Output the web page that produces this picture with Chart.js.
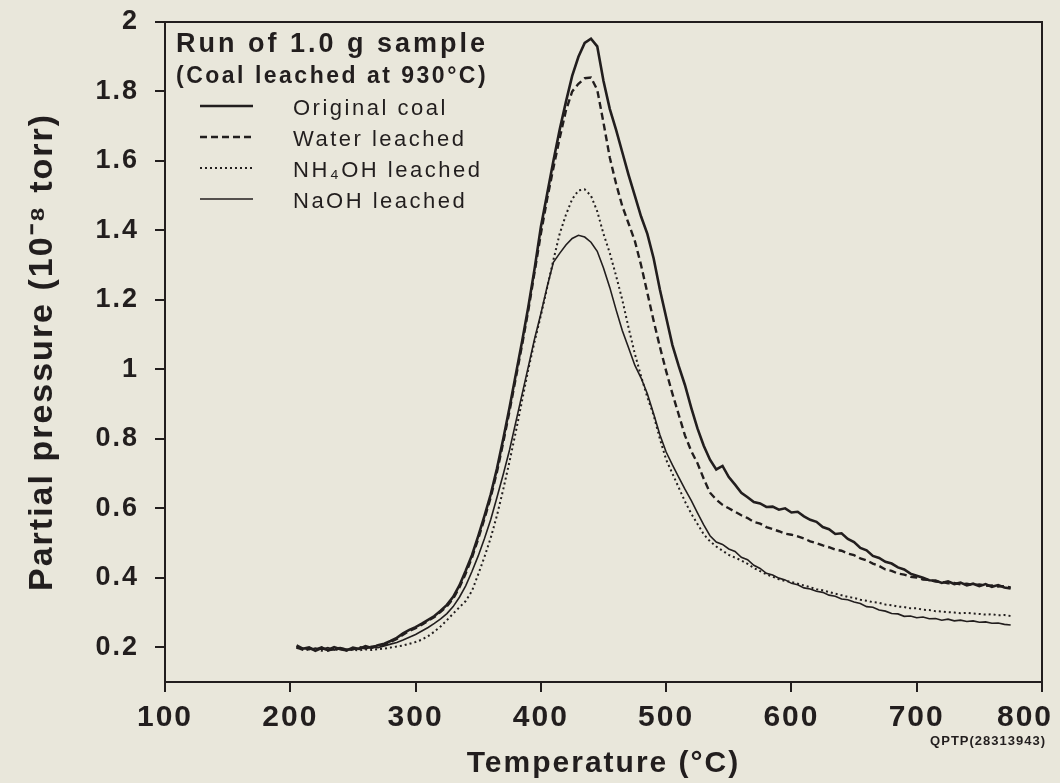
<!DOCTYPE html>
<html>
<head>
<meta charset="utf-8">
<script src="https://cdn.jsdelivr.net/npm/chart.js@4.4.1/dist/chart.umd.min.js"></script>
<style>
  html, body { margin: 0; padding: 0; background: #e9e7db; }
  #wrap { width: 1060px; height: 783px; }
</style>
</head>
<body>
<div id="wrap"><canvas id="chart" width="1060" height="783"></canvas></div>
<script>
// temperature grid (deg C), shared by all four runs
const temperature = [
  205, 210, 215, 220, 225, 230, 235, 240, 245, 250, 255, 260, 265, 270,
  275, 280, 285, 290, 295, 300, 305, 310, 315, 320, 325, 330, 335,
  340, 345, 350, 355, 360, 365, 370, 375, 380, 385, 390, 395, 400, 405, 410, 415, 420, 425, 430, 435,
  440, 445, 450, 455, 460, 465, 470, 475, 480, 485, 490, 495, 500, 505, 510, 515, 520, 525, 530, 535,
  540, 545, 550, 555, 560, 565, 570, 575, 580, 585, 590, 595, 600, 605, 610, 615, 620, 625, 630, 635,
  640, 645, 650, 655, 660, 665, 670, 675, 680, 685, 690, 695, 700, 705, 710, 715, 720, 725, 730, 735,
  740, 745, 750, 755, 760, 765, 770, 775
];

// partial pressure, 10^-8 torr
const originalCoal = [
  0.205, 0.196, 0.2, 0.19, 0.198, 0.192, 0.2, 0.194, 0.191, 0.199, 0.195, 0.203, 0.198, 0.206,
  0.21, 0.218, 0.227, 0.24, 0.25, 0.258, 0.268, 0.279, 0.29, 0.305, 0.322, 0.345, 0.378,
  0.42, 0.465, 0.52, 0.578, 0.64, 0.715, 0.8, 0.89, 0.985, 1.08, 1.18, 1.29, 1.41, 1.505, 1.6, 1.69, 1.77, 1.845, 1.9, 1.94,
  1.952, 1.93, 1.83, 1.75, 1.69, 1.625, 1.56, 1.5, 1.44, 1.39, 1.32, 1.23, 1.15, 1.07, 1.01, 0.955, 0.89, 0.83, 0.78, 0.74,
  0.712, 0.722, 0.69, 0.668, 0.645, 0.632, 0.618, 0.614, 0.604, 0.605, 0.596, 0.6, 0.588, 0.59, 0.577, 0.567, 0.561, 0.546, 0.54, 0.526,
  0.528, 0.512, 0.503, 0.486, 0.479, 0.463, 0.457, 0.446, 0.441, 0.43, 0.424, 0.412, 0.406, 0.4, 0.393, 0.392, 0.385, 0.39, 0.382, 0.386,
  0.378, 0.383, 0.376, 0.382, 0.374, 0.379, 0.372, 0.369
];
const waterLeached = [
  0.2, 0.193, 0.197, 0.193, 0.2, 0.19, 0.196, 0.198, 0.193, 0.195, 0.2, 0.198, 0.202, 0.204,
  0.208, 0.215, 0.224, 0.236, 0.247, 0.255, 0.265, 0.276, 0.287, 0.302, 0.318, 0.34, 0.372,
  0.412, 0.458, 0.512, 0.57, 0.632, 0.705, 0.79, 0.88, 0.975, 1.07, 1.17, 1.28, 1.39, 1.49, 1.58, 1.665, 1.745, 1.8, 1.822, 1.838,
  1.84, 1.805, 1.71, 1.61, 1.535, 1.47, 1.42, 1.37, 1.3, 1.22, 1.14, 1.065, 0.995, 0.93, 0.87, 0.81, 0.765, 0.73, 0.685, 0.645,
  0.625, 0.61, 0.6, 0.59, 0.58, 0.572, 0.561, 0.556, 0.546, 0.54, 0.534, 0.527, 0.524, 0.519, 0.513, 0.505, 0.5, 0.493, 0.488, 0.481,
  0.478, 0.47, 0.465, 0.456, 0.45, 0.441, 0.434, 0.424, 0.42, 0.412, 0.409, 0.403, 0.401, 0.395, 0.394, 0.389, 0.388, 0.384, 0.385, 0.381,
  0.383, 0.379, 0.381, 0.377, 0.378, 0.375, 0.376, 0.372
];
const nh4ohLeached = [
  0.198, 0.195, 0.192, 0.196, 0.19, 0.194, 0.192, 0.195, 0.19, 0.193, 0.191, 0.194, 0.192, 0.195,
  0.196, 0.199, 0.202, 0.205, 0.21, 0.215, 0.222, 0.232, 0.245, 0.26, 0.278, 0.297, 0.315,
  0.333, 0.362, 0.41, 0.46, 0.515, 0.58, 0.655, 0.735, 0.82, 0.91, 1.0, 1.08, 1.155, 1.235, 1.315, 1.39, 1.445, 1.49, 1.515, 1.518,
  1.5, 1.455, 1.39, 1.335, 1.27, 1.2, 1.12, 1.045, 0.98, 0.92, 0.868, 0.8, 0.74, 0.7, 0.66, 0.62, 0.585, 0.555, 0.525, 0.505,
  0.49, 0.478, 0.466, 0.458, 0.45, 0.44, 0.428, 0.419, 0.41, 0.403, 0.396, 0.391, 0.388, 0.383, 0.378, 0.373, 0.367, 0.364, 0.359, 0.354,
  0.35, 0.345, 0.342, 0.337, 0.334, 0.33, 0.328, 0.323, 0.321, 0.317, 0.316, 0.312, 0.312, 0.308, 0.307, 0.304, 0.303, 0.301, 0.3, 0.298,
  0.299, 0.297, 0.296, 0.294, 0.295, 0.292, 0.293, 0.29
];
const naohLeached = [
  0.2, 0.197, 0.193, 0.198, 0.194, 0.199, 0.192, 0.197, 0.195, 0.193, 0.198, 0.196, 0.2, 0.199,
  0.204, 0.209, 0.214, 0.221, 0.229, 0.237, 0.247, 0.257, 0.269, 0.282, 0.297, 0.317, 0.344,
  0.377, 0.418, 0.463, 0.513, 0.568, 0.632, 0.698, 0.768, 0.848, 0.928, 1.008, 1.088, 1.16, 1.238, 1.308, 1.334, 1.358, 1.377, 1.386, 1.381,
  1.366, 1.34, 1.292, 1.236, 1.172, 1.112, 1.062, 1.012, 0.975, 0.93, 0.872, 0.812, 0.762, 0.725, 0.69, 0.655, 0.623, 0.587, 0.552, 0.521,
  0.503, 0.496, 0.483, 0.476, 0.459, 0.452, 0.436, 0.427, 0.413, 0.408, 0.399, 0.394, 0.384, 0.38, 0.371, 0.368, 0.361, 0.358, 0.35, 0.347,
  0.339, 0.337, 0.33, 0.326, 0.317, 0.315, 0.307, 0.304, 0.297, 0.296, 0.289, 0.29, 0.285, 0.287, 0.282, 0.283, 0.278, 0.281, 0.276, 0.278,
  0.274, 0.276, 0.272, 0.273, 0.269, 0.27, 0.266, 0.264
];

const xTicks = [100, 200, 300, 400, 500, 600, 700, 800];
const yTicks = [0.2, 0.4, 0.6, 0.8, 1, 1.2, 1.4, 1.6, 1.8, 2];

const INK = "#221e1e";
const FONT = "'Liberation Sans', Arial, Helvetica, sans-serif";

const toPoints = vals => vals.map((v, i) => ({ x: temperature[i], y: v }));

const series = [
  { label: "Original coal", data: originalCoal, width: 2.6, dash: [] },
  { label: "Water leached", data: waterLeached, width: 2.4, dash: [7, 4] },
  { label: "NH\u2084OH leached", data: nh4ohLeached, width: 2, dash: [2, 3] },
  { label: "NaOH leached", data: naohLeached, width: 1.6, dash: [] },
];

// box round the plot area, legend text, figure code
const decor = {
  id: "decor",
  beforeUpdate(chart) { chart.ctx.letterSpacing = "2px"; },
  afterDatasetsDraw(chart) {
    const { ctx, chartArea: a } = chart;
    ctx.save();
    ctx.strokeStyle = INK;
    ctx.lineWidth = 2;
    ctx.strokeRect(a.left, a.top, a.right - a.left, a.bottom - a.top);
    ctx.restore();
  },
  afterDraw(chart) {
    const { ctx, chartArea: a } = chart;
    ctx.save();
    ctx.fillStyle = INK;
    ctx.textBaseline = "alphabetic";
    ctx.textAlign = "left";
    ctx.letterSpacing = "3px";
    ctx.font = "bold 27px " + FONT;
    ctx.fillText("Run of 1.0 g sample", a.left + 11, a.top + 30);
    ctx.letterSpacing = "2.5px";
    ctx.font = "bold 23px " + FONT;
    ctx.fillText("(Coal leached at 930\u00B0C)", a.left + 11, a.top + 61);

    ctx.font = "22px " + FONT;
    ctx.letterSpacing = "2.5px";
    series.forEach((s, i) => {
      const base = a.top + 93 + i * 31;
      ctx.fillText(s.label, a.left + 128, base);
      ctx.beginPath();
      ctx.strokeStyle = INK;
      ctx.lineWidth = s.width;
      ctx.setLineDash(s.dash);
      ctx.moveTo(a.left + 35, base - 9);
      ctx.lineTo(a.left + 88, base - 9);
      ctx.stroke();
    });

    ctx.setLineDash([]);
    ctx.letterSpacing = "1px";
    ctx.font = "bold 13px " + FONT;
    ctx.textAlign = "right";
    ctx.fillText("QPTP(28313943)", a.right + 4, a.bottom + 63);
    ctx.restore();
  }
};

new Chart(document.getElementById("chart"), {
  type: "line",
  data: {
    datasets: series.map(s => ({
      label: s.label,
      data: toPoints(s.data),
      borderColor: INK,
      borderWidth: s.width,
      borderDash: s.dash,
      pointRadius: 0,
      fill: false,
      tension: 0,
    })),
  },
  options: {
    responsive: false,
    animation: false,
    devicePixelRatio: 1,
    layout: { padding: { top: 22, right: 18, left: 0, bottom: 0 } },
    plugins: { legend: { display: false }, tooltip: { enabled: false } },
    scales: {
      x: {
        type: "linear",
        min: 100,
        max: 800,
        afterBuildTicks: s => { s.ticks = xTicks.map(v => ({ value: v })); },
        afterFit: s => { s.height = 101; s.paddingLeft = 0; s.paddingRight = 0; },
        ticks: {
          color: INK,
          font: { family: FONT, size: 30, weight: "bold" },
          padding: 8,
          maxRotation: 0,
          // last label sits a little left of its tick, as in the print
          callback: v => v === 800 ? "800\u2002\u2002" : String(v),
        },
        grid: { drawOnChartArea: false, drawTicks: true, tickLength: 10, color: INK, lineWidth: 2 },
        border: { color: INK, width: 2 },
        title: {
          display: true,
          text: "Temperature (\u00B0C)",
          color: INK,
          font: { family: FONT, size: 30, weight: "bold" },
          padding: { top: 0, bottom: 1 },
        },
      },
      y: {
        type: "linear",
        min: 0.1,
        max: 2,
        afterBuildTicks: s => { s.ticks = yTicks.map(v => ({ value: v })); },
        afterFit: s => { s.width = 165; s.paddingTop = 0; s.paddingBottom = 0; },
        ticks: {
          color: INK,
          font: { family: FONT, size: 27, weight: "bold" },
          padding: 16,
          callback: v => String(Number(v.toFixed(1))),
        },
        grid: { drawOnChartArea: false, drawTicks: true, tickLength: 10, color: INK, lineWidth: 2 },
        border: { color: INK, width: 2 },
        title: {
          display: true,
          text: "Partial pressure (10\u207B\u2078 torr)",
          color: INK,
          font: { family: FONT, size: 34, weight: "bold" },
          padding: { top: 22, bottom: 0 },
        },
      },
    },
  },
  plugins: [decor],
});
</script>
</body>
</html>
